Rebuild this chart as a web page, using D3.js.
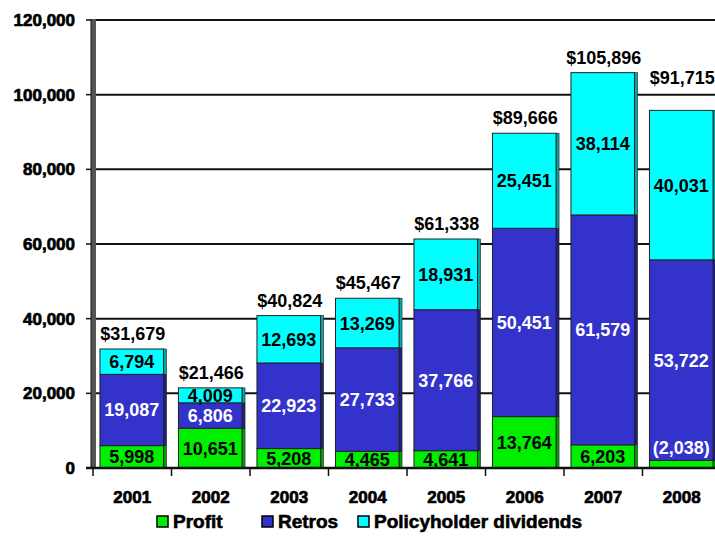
<!DOCTYPE html>
<html>
<head>
<meta charset="utf-8">
<script src="https://cdn.jsdelivr.net/npm/d3@7"></script>
<style>
  body { margin: 0; background: #fff; }
  svg { display: block; font-family: "Liberation Sans", Arial, sans-serif; font-weight: bold; }
</style>
</head>
<body>
<div id="chart"></div>
<script>
// Chart data
const years = ["2001", "2002", "2003", "2004", "2005", "2006", "2007", "2008"];
const profit = [5998, 10651, 5208, 4465, 4641, 13764, 6203, -2038];
const retros = [19087, 6806, 22923, 27733, 37766, 50451, 61579, 53722];
const dividends = [6794, 4009, 12693, 13269, 18931, 25451, 38114, 40031];
const totals = [31679, 21466, 40824, 45467, 61338, 89666, 105896, 91715];
const yTicks = [0, 20000, 40000, 60000, 80000, 100000, 120000];

const seriesNames = ["Profit", "Retros", "Policyholder dividends"];
const seriesData = [profit, retros, dividends];
const fills = ["#00ee00", "#3333cc", "#00ffff"];
const sides = ["#00a000", "#1f1f80", "#00a8a8"];
const labelColors = ["#000", "#fff", "#000"];

const width = 715, height = 550;
const plot = { left: 93, right: 721, top: 20, bottom: 468 };

const svg = d3.select("#chart").append("svg")
    .attr("width", width)
    .attr("height", height);

const x = d3.scaleBand()
    .domain(years)
    .range([plot.left, plot.right]);

const y = d3.scaleLinear()
    .domain([0, 120000])
    .range([plot.bottom, plot.top]);

const fmt = d3.format(",");
const fmtVal = v => v < 0 ? `(${fmt(-v)})` : fmt(v);

// Gridlines
svg.append("g")
    .selectAll("line")
    .data(yTicks.filter(d => d > 0))
    .enter()
    .append("line")
    .attr("x1", plot.left + 3)
    .attr("x2", plot.right)
    .attr("y1", d => y(d))
    .attr("y2", d => y(d))
    .attr("stroke", "#111")
    .attr("stroke-width", 2);

// Stacked bars
const barW = x.bandwidth() * 0.81;
const depth = 3;
const labelLayer = [];

years.forEach((year, i) => {
    const x0 = x(year) + (x.bandwidth() - barW - depth) / 2 + 1;
    let base = 0;
    const g = svg.append("g");

    seriesData.forEach((series, s) => {
        const v = series[i];
        const h = Math.abs(v);
        const yTop = y(base + h);
        const yBot = y(base);

        // side face
        g.append("rect")
            .attr("x", x0 + barW)
            .attr("y", yTop)
            .attr("width", depth)
            .attr("height", yBot - yTop)
            .attr("fill", sides[s])
            .attr("stroke", "#222")
            .attr("stroke-width", 0.6);

        // front face
        g.append("rect")
            .attr("x", x0)
            .attr("y", yTop)
            .attr("width", barW)
            .attr("height", yBot - yTop)
            .attr("fill", fills[s])
            .attr("stroke", "#222")
            .attr("stroke-width", 1);

        // segment label (drawn later, on top)
        let ly = (yTop + yBot) / 2;
        let col = labelColors[s];
        if (v < 0) {
            ly = yTop - 13;
            col = "#fff";
        }
        labelLayer.push({ x: x0 + barW / 2, y: ly, color: col, text: fmtVal(v) });

        base += h;
    });

    // total label
    const lift = profit[i] < 0 ? 26 : 9;
    labelLayer.push({ x: x0 + barW / 2 + 1, y: y(base) - lift, color: "#000", text: "$" + fmt(totals[i]), total: true });
});

svg.append("g")
    .selectAll("text")
    .data(labelLayer)
    .enter()
    .append("text")
    .attr("x", d => d.x)
    .attr("y", d => d.y)
    .attr("dy", d => d.total ? 0 : "0.36em")
    .attr("text-anchor", "middle")
    .attr("font-size", "18px")
    .attr("fill", d => d.color)
    .text(d => d.text);

// Y axis (thick grey wall)
svg.append("rect")
    .attr("x", plot.left - 2)
    .attr("y", plot.top - 1)
    .attr("width", 5)
    .attr("height", plot.bottom - plot.top + 1)
    .attr("fill", "#555");

svg.append("line")
    .attr("x1", plot.left - 2)
    .attr("x2", plot.left - 2)
    .attr("y1", plot.top - 1)
    .attr("y2", plot.bottom)
    .attr("stroke", "#111")
    .attr("stroke-width", 1);

const yAxis = svg.append("g");
yAxis.selectAll("line")
    .data(yTicks)
    .enter()
    .append("line")
    .attr("x1", plot.left - 7)
    .attr("x2", plot.left - 2)
    .attr("y1", d => y(d))
    .attr("y2", d => y(d))
    .attr("stroke", "#111")
    .attr("stroke-width", 1.5);

yAxis.selectAll("text")
    .data(yTicks)
    .enter()
    .append("text")
    .attr("x", plot.left - 18)
    .attr("y", d => y(d))
    .attr("dy", "0.36em")
    .attr("text-anchor", "end")
    .attr("font-size", "17px")
    .attr("fill", "#000")
    .attr("stroke", "#000")
    .attr("stroke-width", 0.7)
    .text(d => fmt(d));

// X axis
svg.append("line")
    .attr("x1", plot.left - 7)
    .attr("x2", plot.right)
    .attr("y1", plot.bottom)
    .attr("y2", plot.bottom)
    .attr("stroke", "#111")
    .attr("stroke-width", 2.5);

svg.append("g")
    .selectAll("line")
    .data(years)
    .enter()
    .append("line")
    .attr("x1", d => x(d))
    .attr("x2", d => x(d))
    .attr("y1", plot.bottom)
    .attr("y2", plot.bottom + 8)
    .attr("stroke", "#111")
    .attr("stroke-width", 1.5);

svg.append("g")
    .selectAll("text")
    .data(years)
    .enter()
    .append("text")
    .attr("x", d => x(d) + x.bandwidth() / 2)
    .attr("y", plot.bottom + 35)
    .attr("text-anchor", "middle")
    .attr("font-size", "17px")
    .attr("fill", "#000")
    .attr("stroke", "#000")
    .attr("stroke-width", 0.7)
    .text(d => d);

// Legend
const legendX = [157, 262, 358];
const legend = svg.append("g");
seriesNames.forEach((name, s) => {
    legend.append("rect")
        .attr("x", legendX[s])
        .attr("y", 516)
        .attr("width", 11)
        .attr("height", 11)
        .attr("fill", fills[s])
        .attr("stroke", "#000")
        .attr("stroke-width", 1.5);

    legend.append("text")
        .attr("x", legendX[s] + 16)
        .attr("y", 528)
        .attr("font-size", "19px")
        .attr("fill", "#000")
        .attr("stroke", "#000")
        .attr("stroke-width", 0.6)
        .text(name);
});
</script>
</body>
</html>
